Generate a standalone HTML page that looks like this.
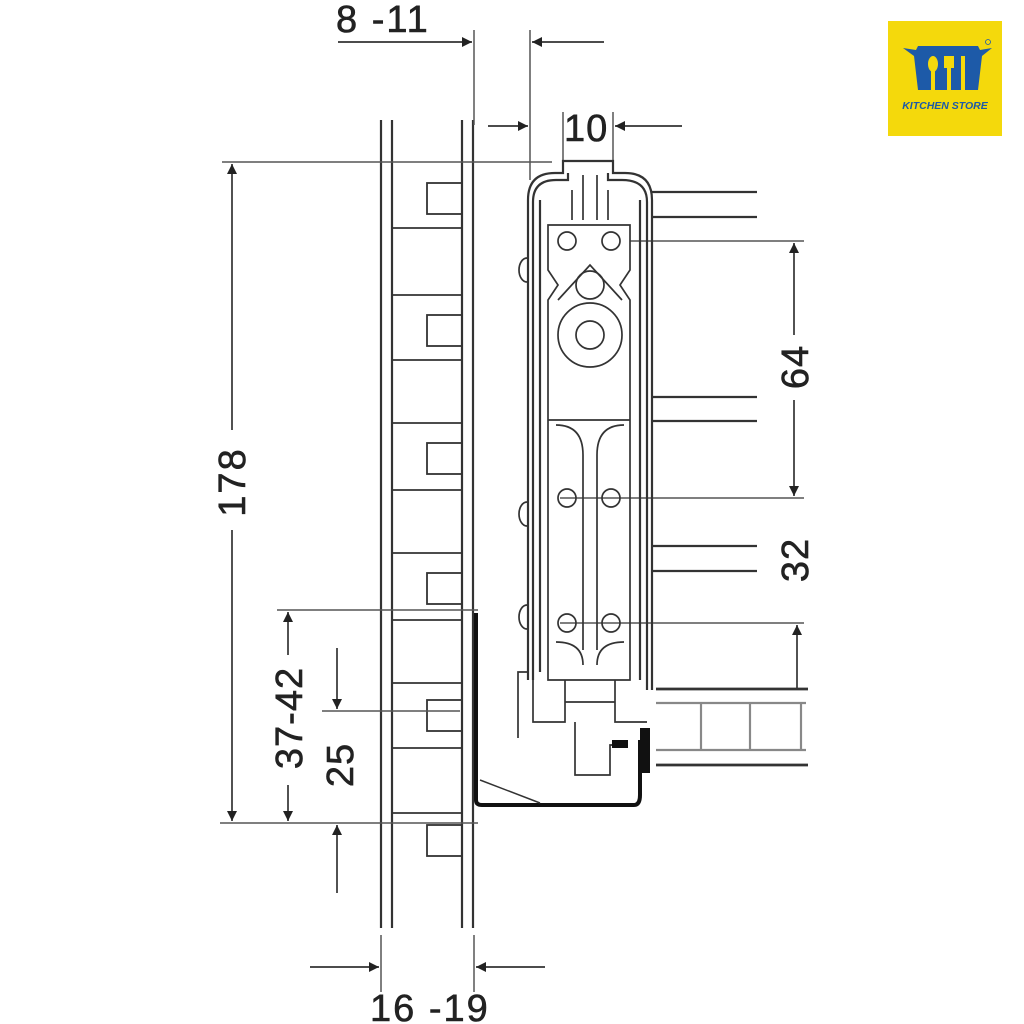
<!DOCTYPE html>
<html><head><meta charset="utf-8"><style>
html,body{margin:0;padding:0;background:#fff;width:1024px;height:1024px;overflow:hidden}
svg{display:block}
text{font-family:"Liberation Sans",sans-serif;fill:#222;stroke:#222;stroke-width:0.6}
</style></head><body>
<svg width="1024" height="1024" viewBox="0 0 1024 1024" xmlns="http://www.w3.org/2000/svg">
<defs>
<marker id="a" viewBox="0 0 10 10" refX="10" refY="5" markerWidth="18" markerHeight="10" markerUnits="userSpaceOnUse" orient="auto"><path d="M0,0 L10,5 L0,10 z" fill="#222"/></marker>
</defs>
<g stroke="#333" stroke-width="2.2" fill="none">
<line x1="381" y1="120" x2="381" y2="928"/>
<line x1="392" y1="120" x2="392" y2="928"/>
<line x1="462" y1="120" x2="462" y2="928"/>
<line x1="473" y1="120" x2="473" y2="928"/>
<g stroke-width="1.8">
<line x1="392" y1="228" x2="462" y2="228"/><line x1="392" y1="295" x2="462" y2="295"/>
<line x1="392" y1="360" x2="462" y2="360"/><line x1="392" y1="423" x2="462" y2="423"/>
<line x1="392" y1="490" x2="462" y2="490"/><line x1="392" y1="553" x2="462" y2="553"/>
<line x1="392" y1="620" x2="462" y2="620"/><line x1="392" y1="683" x2="462" y2="683"/>
<line x1="392" y1="748" x2="462" y2="748"/><line x1="392" y1="813" x2="462" y2="813"/>
<rect x="427" y="183" width="35" height="31"/><rect x="427" y="315" width="35" height="31"/>
<rect x="427" y="443" width="35" height="31"/><rect x="427" y="573" width="35" height="31"/>
<rect x="427" y="700" width="35" height="31"/><rect x="427" y="825" width="35" height="31"/>
</g>
<g stroke-width="1.5" stroke="#555">
<line x1="474" y1="30" x2="474" y2="125"/>
<line x1="530" y1="30" x2="530" y2="180"/>
<line x1="563" y1="112" x2="563" y2="165"/>
<line x1="613" y1="112" x2="613" y2="165"/>
<line x1="222" y1="162" x2="552" y2="162"/>
<line x1="630" y1="241" x2="804" y2="241"/>
<line x1="560" y1="498" x2="804" y2="498"/>
<line x1="560" y1="623" x2="804" y2="623"/>
<line x1="277" y1="610" x2="478" y2="610"/>
<line x1="322" y1="711" x2="460" y2="711"/>
<line x1="220" y1="823" x2="478" y2="823"/>
<line x1="381" y1="935" x2="381" y2="992"/>
<line x1="474" y1="935" x2="474" y2="992"/>
</g>
<g stroke-width="1.7">
<line x1="338" y1="42" x2="472" y2="42" marker-end="url(#a)"/>
<line x1="604" y1="42" x2="532" y2="42" marker-end="url(#a)"/>
<line x1="488" y1="126" x2="528" y2="126" marker-end="url(#a)"/>
<line x1="682" y1="126" x2="615" y2="126" marker-end="url(#a)"/>
<line x1="232" y1="430" x2="232" y2="164" marker-end="url(#a)"/>
<line x1="232" y1="530" x2="232" y2="821" marker-end="url(#a)"/>
<line x1="794" y1="335" x2="794" y2="243" marker-end="url(#a)"/>
<line x1="794" y1="400" x2="794" y2="496" marker-end="url(#a)"/>
<line x1="797" y1="688" x2="797" y2="625" marker-end="url(#a)"/>
<line x1="288" y1="655" x2="288" y2="612" marker-end="url(#a)"/>
<line x1="288" y1="785" x2="288" y2="821" marker-end="url(#a)"/>
<line x1="337" y1="648" x2="337" y2="709" marker-end="url(#a)"/>
<line x1="337" y1="893" x2="337" y2="825" marker-end="url(#a)"/>
<line x1="310" y1="967" x2="379" y2="967" marker-end="url(#a)"/>
<line x1="545" y1="967" x2="476" y2="967" marker-end="url(#a)"/>
</g>
<path d="M528,680 L528,200 Q528,173 555,173 L563,173 L563,161 L613,161 L613,173 L625,173 Q652,173 652,200 L652,690"/>
<path d="M533,680 L533,202 Q533,180 556,180 L568,180 L568,173 M608,173 L608,180 L622,180 Q647,180 647,202 L647,690"/>
<line x1="540" y1="200" x2="540" y2="672"/>
<line x1="640" y1="200" x2="640" y2="680"/>
<g stroke-width="1.7">
<line x1="572" y1="190" x2="572" y2="220"/><line x1="583" y1="175" x2="583" y2="220"/>
<line x1="597" y1="175" x2="597" y2="220"/><line x1="608" y1="190" x2="608" y2="220"/>
<path d="M548,225 L630,225 L630,270 L620,285 L630,300 L630,680 L548,680 L548,300 L558,285 L548,270 Z"/>
<line x1="548" y1="420" x2="630" y2="420"/>
<circle cx="567" cy="241" r="9"/><circle cx="611" cy="241" r="9"/>
<circle cx="567" cy="498" r="9"/><circle cx="611" cy="498" r="9"/>
<circle cx="567" cy="623" r="9"/><circle cx="611" cy="623" r="9"/>
<path d="M558,300 L590,265 L622,300"/>
<circle cx="590" cy="285" r="14"/>
<circle cx="590" cy="335" r="32"/><circle cx="590" cy="335" r="14"/>
<path d="M556,425 Q583,425 583,455 L583,650 M624,425 Q597,425 597,455 L597,650"/>
<path d="M556,642 Q583,642 583,665 M624,642 Q597,642 597,665"/>
<path d="M527,258 A8,12 0 0 0 527,282 M527,502 A8,12 0 0 0 527,526 M527,605 A8,12 0 0 0 527,629"/>
<path d="M528,672 L518,672 L518,738"/>
<path d="M533,680 L533,722 L565,722 L565,680 M615,680 L615,722 L647,722"/>
<path d="M575,722 L575,775 L610,775 L610,745 L628,745"/>
<path d="M565,702 L615,702"/>
</g>
<path d="M476,613 L476,800 Q476,805 482,805 L634,805 Q640,805 640,795 L640,740" stroke="#111" stroke-width="4"/>
<path d="M480,780 L540,803" stroke-width="1.5"/>
<rect x="640" y="728" width="10" height="45" fill="#111" stroke="none"/>
<rect x="612" y="740" width="16" height="8" fill="#111" stroke="none"/>
<line x1="652" y1="192" x2="757" y2="192"/><line x1="652" y1="217" x2="757" y2="217"/>
<line x1="652" y1="397" x2="757" y2="397"/><line x1="652" y1="421" x2="757" y2="421"/>
<line x1="652" y1="546" x2="757" y2="546"/><line x1="652" y1="571" x2="757" y2="571"/>
<line x1="656" y1="689" x2="808" y2="689" stroke-width="2.8"/>
<line x1="656" y1="765" x2="808" y2="765" stroke-width="2.8"/>
<g stroke="#888" stroke-width="2.2">
<line x1="656" y1="703" x2="806" y2="703"/><line x1="656" y1="750" x2="806" y2="750"/>
<line x1="701" y1="703" x2="701" y2="750"/><line x1="750" y1="703" x2="750" y2="750"/><line x1="801" y1="703" x2="801" y2="750"/>
</g>
</g>
<text x="336" y="32" font-size="38" letter-spacing="2">8 -11</text>
<text x="564" y="141" font-size="38" letter-spacing="1">10</text>
<text x="370" y="1021" font-size="38" letter-spacing="2">16 -19</text>
<text transform="translate(245,482) rotate(-90)" font-size="38" letter-spacing="2" text-anchor="middle">178</text>
<text transform="translate(808,367) rotate(-90)" font-size="38" letter-spacing="1" text-anchor="middle">64</text>
<text transform="translate(808,560) rotate(-90)" font-size="38" letter-spacing="1" text-anchor="middle">32</text>
<text transform="translate(302,718) rotate(-90)" font-size="38" letter-spacing="1" text-anchor="middle">37-42</text>
<text transform="translate(353,765) rotate(-90)" font-size="38" letter-spacing="1" text-anchor="middle">25</text>
<rect x="888" y="21" width="114" height="115" fill="#f4d90c"/>
<path d="M903,48 L916,50 L918,46 L978,46 L980,50 L992,48 L982,56 L978,90 L918,90 L914,56 Z" fill="#1d5aa8"/>
<g fill="#f4d90c"><ellipse cx="933" cy="64" rx="5" ry="8"/><rect x="931" y="68" width="4" height="22"/>
<rect x="944" y="56" width="10" height="12"/><rect x="947" y="66" width="4" height="24"/>
<path d="M961,56 L965,56 L965,90 L961,90 Z"/></g>
<text x="945" y="109" font-size="10.5" font-weight="bold" font-style="italic" text-anchor="middle" style="fill:#1d5aa8;stroke:none">KITCHEN STORE</text>
<circle cx="988" cy="42" r="2.5" fill="none" stroke="#1d5aa8" stroke-width="0.8"/>
</svg>
</body></html>
